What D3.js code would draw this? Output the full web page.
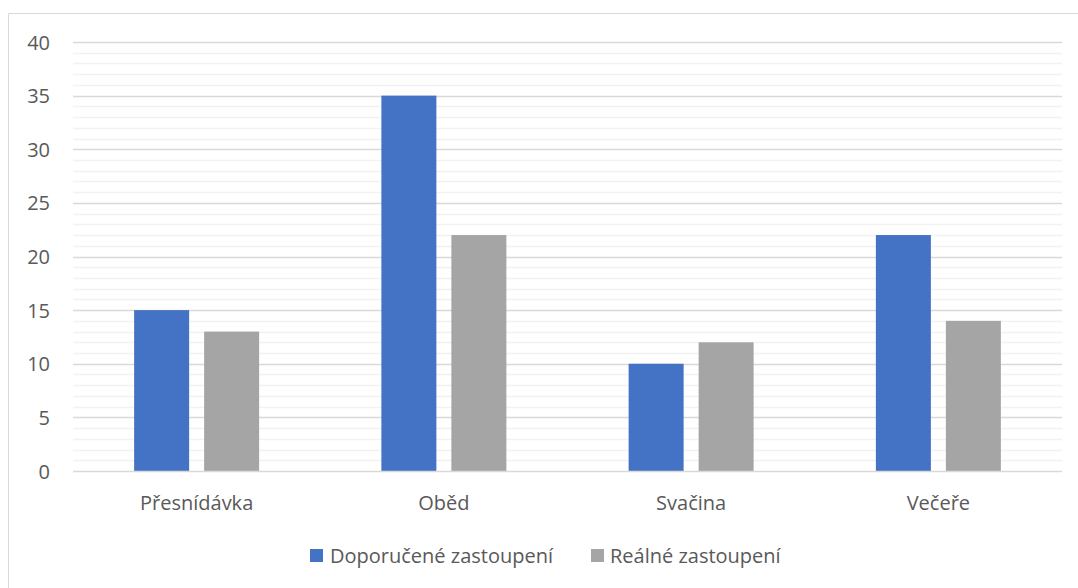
<!DOCTYPE html>
<html>
<head>
<meta charset="utf-8">
<script src="https://cdn.jsdelivr.net/npm/d3@7"></script>
<style>
  html, body { margin: 0; padding: 0; background: #fff; }
  svg { display: block; }
  text { font-family: "Open Sans", "Noto Sans", sans-serif; fill: #595959; }
</style>
</head>
<body>
<svg id="chart" width="1078" height="588"></svg>
<script>
// Meal categories and the two series (percent of daily intake)
const categories = ["Přesnídávka", "Oběd", "Svačina", "Večeře"];
const recommended = [15, 35, 10, 22];
const actual = [13, 22, 12, 14];
const seriesNames = ["Doporučené zastoupení", "Reálné zastoupení"];
const seriesColors = ["#4472C4", "#A5A5A5"];
const yTicks = [0, 5, 10, 15, 20, 25, 30, 35, 40];

const svg = d3.select("#chart");
const W = 1078, H = 588;
const plot = { left: 73, right: 1062, top: 42, bottom: 471 };
const FONT = '"Open Sans", "Noto Sans", sans-serif';
const FS = 20;

// Outer chart frame (top and left edges fall inside the view)
svg.append("line").attr("x1", 8.5).attr("x2", W).attr("y1", 13.5).attr("y2", 13.5)
  .attr("stroke", "#d9d9d9").attr("stroke-width", 1);
svg.append("line").attr("x1", 8.5).attr("x2", 8.5).attr("y1", 13.5).attr("y2", H)
  .attr("stroke", "#d9d9d9").attr("stroke-width", 1);

const x = d3.scaleBand().domain(categories).range([plot.left, plot.right]);
const y = d3.scaleLinear().domain([0, 40]).range([plot.bottom, plot.top]);

// Minor gridlines every unit
const minor = d3.range(1, 40).filter(v => v % 5 !== 0);
svg.append("g").selectAll("line").data(minor).join("line")
  .attr("x1", plot.left).attr("x2", plot.right)
  .attr("y1", d => Math.round(y(d)) + 0.5).attr("y2", d => Math.round(y(d)) + 0.5)
  .attr("stroke", "#f2f2f2").attr("stroke-width", 1.3);

// Major gridlines
svg.append("g").selectAll("line").data(yTicks.filter(v => v > 0)).join("line")
  .attr("x1", plot.left).attr("x2", plot.right)
  .attr("y1", d => Math.round(y(d)) + 0.5).attr("y2", d => Math.round(y(d)) + 0.5)
  .attr("stroke", "#d9d9d9").attr("stroke-width", 1.3);

// Y axis labels
const yAxis = d3.axisLeft(y).tickValues(yTicks).tickSize(0).tickPadding(0);
const yg = svg.append("g").attr("transform", `translate(50,0)`).call(yAxis);
yg.select(".domain").remove();
yg.selectAll("text").attr("font-size", FS).attr("fill", "#595959")
  .attr("dy", "0.35em").style("font-family", FONT);

// Bars
const barW = 55, gap = 15;
const groups = svg.append("g").selectAll("g").data(categories).join("g")
  .attr("transform", d => `translate(${x(d) + x.bandwidth() / 2},0)`);
[recommended, actual].forEach((vals, si) => {
  groups.append("rect")
    .attr("x", si === 0 ? -(barW + gap / 2) : gap / 2)
    .attr("width", barW)
    .attr("y", (d, i) => y(vals[i]))
    .attr("height", (d, i) => y(0) - y(vals[i]))
    .attr("fill", seriesColors[si]);
});

// Baseline (category axis)
svg.append("line").attr("x1", plot.left).attr("x2", plot.right)
  .attr("y1", plot.bottom + 0.5).attr("y2", plot.bottom + 0.5)
  .attr("stroke", "#d9d9d9").attr("stroke-width", 1.5);

// Category labels
const xAxis = d3.axisBottom(x).tickSize(0).tickPadding(0);
const xg = svg.append("g").attr("transform", `translate(0,503)`).call(xAxis);
xg.select(".domain").remove();
xg.selectAll("text").attr("font-size", FS).attr("fill", "#595959")
  .attr("y", 0).attr("dy", "0.35em").style("font-family", FONT);

// Legend
const legendItems = [{ x: 310, tx: 330 }, { x: 591, tx: 610 }];
const lg = svg.append("g");
seriesNames.forEach((name, i) => {
  lg.append("rect").attr("x", legendItems[i].x).attr("y", 549)
    .attr("width", 13).attr("height", 13).attr("fill", seriesColors[i]);
  lg.append("text").attr("x", legendItems[i].tx).attr("y", 556)
    .attr("dy", "0.35em").attr("font-size", FS).text(name);
});
</script>
</body>
</html>
